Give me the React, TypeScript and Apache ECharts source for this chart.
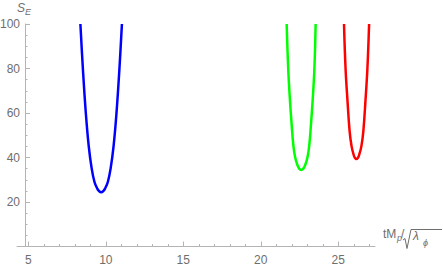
import React, { useEffect, useRef } from "react";
import * as echarts from "echarts";

// Curves (x, S_E): left branch top -> minimum -> right branch top
const blueX = [8.36, 8.52, 8.71, 8.9, 9.09, 9.27, 9.45, 9.55, 9.7, 9.85, 9.95, 10.13, 10.31, 10.5, 10.69, 10.88, 11.04];
const blueY = [100, 80, 60, 45, 35, 29, 26, 25, 24.4, 25, 26, 29, 35, 45, 60, 80, 100];

const greenX = [21.67, 21.77, 21.88, 21.99, 22.1, 22.22, 22.37, 22.48, 22.61, 22.74, 22.86, 23.01, 23.13, 23.24, 23.35, 23.46, 23.54];
const greenY = [100, 80, 66, 55, 45.6, 40, 36.5, 35, 34.4, 35, 36.5, 40, 45.6, 55, 66, 80, 100];

const redX = [25.37, 25.47, 25.6, 25.73, 25.86, 26.0, 26.07, 26.17, 26.27, 26.34, 26.49, 26.62, 26.75, 26.88, 26.99];
const redY = [100, 80, 65, 52, 45, 41, 39.9, 39.3, 39.9, 41, 45, 52, 65, 80, 100];

const xMajorTicks = [5, 10, 15, 20, 25];
const xMinorTicks = [6, 7, 8, 9, 11, 12, 13, 14, 16, 17, 18, 19, 21, 22, 23, 24, 26, 27];
const xRange = [4.27, 27.37];
const yRange = [0, 100];

const AXIS = "#b4b4b4";
const LABEL = "#6e6e6e";
const FONT = "Liberation Sans, Arial, sans-serif";

const pairs = (xs: number[], ys: number[]) => xs.map((x, i) => [x, ys[i]]);

export default function App() {
  const ref = useRef<HTMLDivElement>(null);
  useEffect(() => {
    const chart = echarts.init(ref.current!, null, { renderer: "svg" });
    const lineSeries = (name: string, xs: number[], ys: number[], color: string) => ({
      name,
      type: "line",
      xAxisIndex: 0,
      yAxisIndex: 0,
      data: pairs(xs, ys),
      smooth: 0.4,
      showSymbol: false,
      symbol: "none",
      clip: true,
      lineStyle: { color, width: 2.5 },
      itemStyle: { color },
    });
    chart.setOption({
      animation: false,
      grid: { left: 17, right: 68, top: 24, bottom: 21.5, containLabel: false, outerBoundsMode: "none" },
      xAxis: [
        {
          type: "value",
          min: xRange[0],
          max: xRange[1],
          position: "bottom",
          axisLine: { show: true, lineStyle: { color: AXIS, width: 1 } },
          axisTick: { show: true, inside: true, length: 5, customValues: xMajorTicks, lineStyle: { color: AXIS } },
          axisLabel: { show: true, customValues: xMajorTicks, color: LABEL, fontSize: 12, fontFamily: FONT, margin: 7 },
          splitLine: { show: false },
        },
        {
          type: "value",
          min: xRange[0],
          max: xRange[1],
          position: "bottom",
          axisLine: { show: false },
          axisTick: { show: true, inside: true, length: 2.5, customValues: xMinorTicks, lineStyle: { color: AXIS } },
          axisLabel: { show: false },
          splitLine: { show: false },
        },
      ],
      yAxis: {
        type: "value",
        min: yRange[0],
        max: yRange[1],
        interval: 20,
        position: "left",
        offset: -8,
        axisLine: { show: true, onZero: false, lineStyle: { color: AXIS, width: 1 } },
        axisTick: { show: true, inside: true, length: 5, lineStyle: { color: AXIS } },
        minorTick: { show: true, splitNumber: 4, length: 2.5, lineStyle: { color: AXIS } },
        axisLabel: { showMinLabel: false, color: LABEL, fontSize: 12, fontFamily: FONT, margin: 5 },
        splitLine: { show: false },
      },
      series: [
        lineSeries("blue", blueX, blueY, "#0000ff"),
        lineSeries("green", greenX, greenY, "#00ff00"),
        lineSeries("red", redX, redY, "#ff0000"),
      ],
      graphic: [
        { type: "text", left: 17, top: 2, style: { text: "S", font: `italic 12px ${FONT}`, fill: LABEL } },
        { type: "text", left: 25, top: 7, style: { text: "E", font: `italic 9px ${FONT}`, fill: LABEL } },
        { type: "text", left: 383, top: 228, style: { text: "tM", font: `12px ${FONT}`, fill: LABEL } },
        { type: "text", left: 397, top: 233, style: { text: "p", font: `italic 9px ${FONT}`, fill: LABEL } },
        { type: "text", left: 401, top: 228, style: { text: "/", font: `12px ${FONT}`, fill: LABEL } },
        {
          type: "polyline",
          shape: { points: [[403, 240], [405, 238.5], [407, 248.5], [411, 229.5], [442, 229.5]] },
          style: { stroke: LABEL, lineWidth: 1, fill: "none" },
        },
        { type: "text", left: 413, top: 230, style: { text: "λ", font: `italic 12px ${FONT}`, fill: LABEL } },
        { type: "text", left: 423, top: 238, style: { text: "ϕ", font: `italic 9px ${FONT}`, fill: LABEL } },
      ],
    });
    return () => chart.dispose();
  }, []);
  return <div ref={ref} style={{ position: "absolute", left: 0, top: 0, width: 443, height: 268 }} />;
}
